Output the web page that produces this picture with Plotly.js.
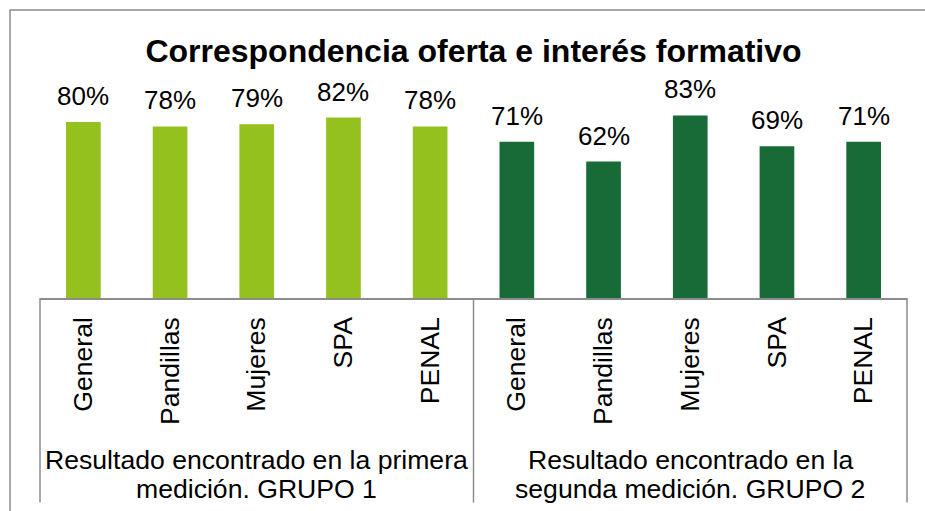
<!DOCTYPE html>
<html><head><meta charset="utf-8">
<script src="https://cdn.plot.ly/plotly-3.0.1.min.js"></script>
<style>html,body{margin:0;padding:0;background:#fff}#chart{width:925px;height:511px}</style>
</head><body><div id="chart"></div>
<script>
const categories = ['General','Pandillas','Mujeres','SPA','PENAL'];
const group1Values = [0.80,0.78,0.79,0.82,0.78];
const group2Values = [0.71,0.62,0.83,0.69,0.71];
const group1Lines = ['Resultado encontrado en la primera','medición. GRUPO 1'];
const group2Lines = ['Resultado encontrado en la','segunda medición. GRUPO 2'];
const titleText = 'Correspondencia oferta e interés formativo';

const FONT = 'Liberation Sans, Arial, sans-serif';
const x1 = categories.map((c,i)=>i);
const x2 = categories.map((c,i)=>i+categories.length);
const allX = x1.concat(x2);
const allVals = group1Values.concat(group2Values);
const pct = v => Math.round(v*100)+'%';

const traces = [
  {type:'bar', x:x1, y:group1Values, width:0.4, marker:{color:'#95C11F'}, hoverinfo:'skip'},
  {type:'bar', x:x2, y:group2Values, width:0.4, marker:{color:'#186A36'}, hoverinfo:'skip'}
];

const annotations = allX.map((x,i)=>({
  x:x, y:allVals[i], xref:'x', yref:'y', text:pct(allVals[i]),
  showarrow:false, yanchor:'bottom', yshift:9,
  font:{family:FONT,size:26,color:'#000'}
}));
[[group1Lines,2],[group2Lines,7]].forEach(([lines,cx])=>{
  lines.forEach((t,j)=>{
    annotations.push({x:cx, xref:'x', y:j===0?-0.735:-0.87, yref:'paper', text:t,
      showarrow:false, yanchor:'middle', font:{family:FONT,size:26.6,color:'#000'}});
  });
});

const grey = '#8c8c8c';
const shapes = [
  {type:'rect', xref:'paper', yref:'paper', x0:-0.0346, x1:1.03, y0:-1.02, y1:1.309, line:{color:grey,width:1.5}},
  {type:'line', xref:'paper', yref:'paper', x0:0, x1:0, y0:0, y1:-0.93, line:{color:grey,width:1.5}},
  {type:'line', xref:'paper', yref:'paper', x0:0.5, x1:0.5, y0:0, y1:-0.93, line:{color:grey,width:1.5}},
  {type:'line', xref:'paper', yref:'paper', x0:1, x1:1, y0:0, y1:-0.93, line:{color:grey,width:1.5}}
];

const layout = {
  width:925, height:511,
  margin:{l:40, r:18, t:78, b:213},
  paper_bgcolor:'#fff', plot_bgcolor:'#fff',
  showlegend:false, barmode:'overlay',
  title:{text:'<b>'+titleText+'</b>', x:0.5, xref:'paper', y:1-51/511, yref:'container', yanchor:'middle',
    font:{family:FONT,size:32,color:'#000'}},
  xaxis:{range:[-0.5,9.5], tickmode:'array', tickvals:allX, ticktext:categories.concat(categories),
    tickangle:-90, ticks:'', showgrid:false, zeroline:false, showline:true, linecolor:grey, linewidth:1.5,
    ticklabelstandoff:7, tickfont:{family:FONT,size:26.6,color:'#000'}, fixedrange:true},
  yaxis:{range:[0,1], visible:false, fixedrange:true},
  annotations:annotations, shapes:shapes
};
Plotly.newPlot('chart', traces, layout, {staticPlot:true});
</script></body></html>
